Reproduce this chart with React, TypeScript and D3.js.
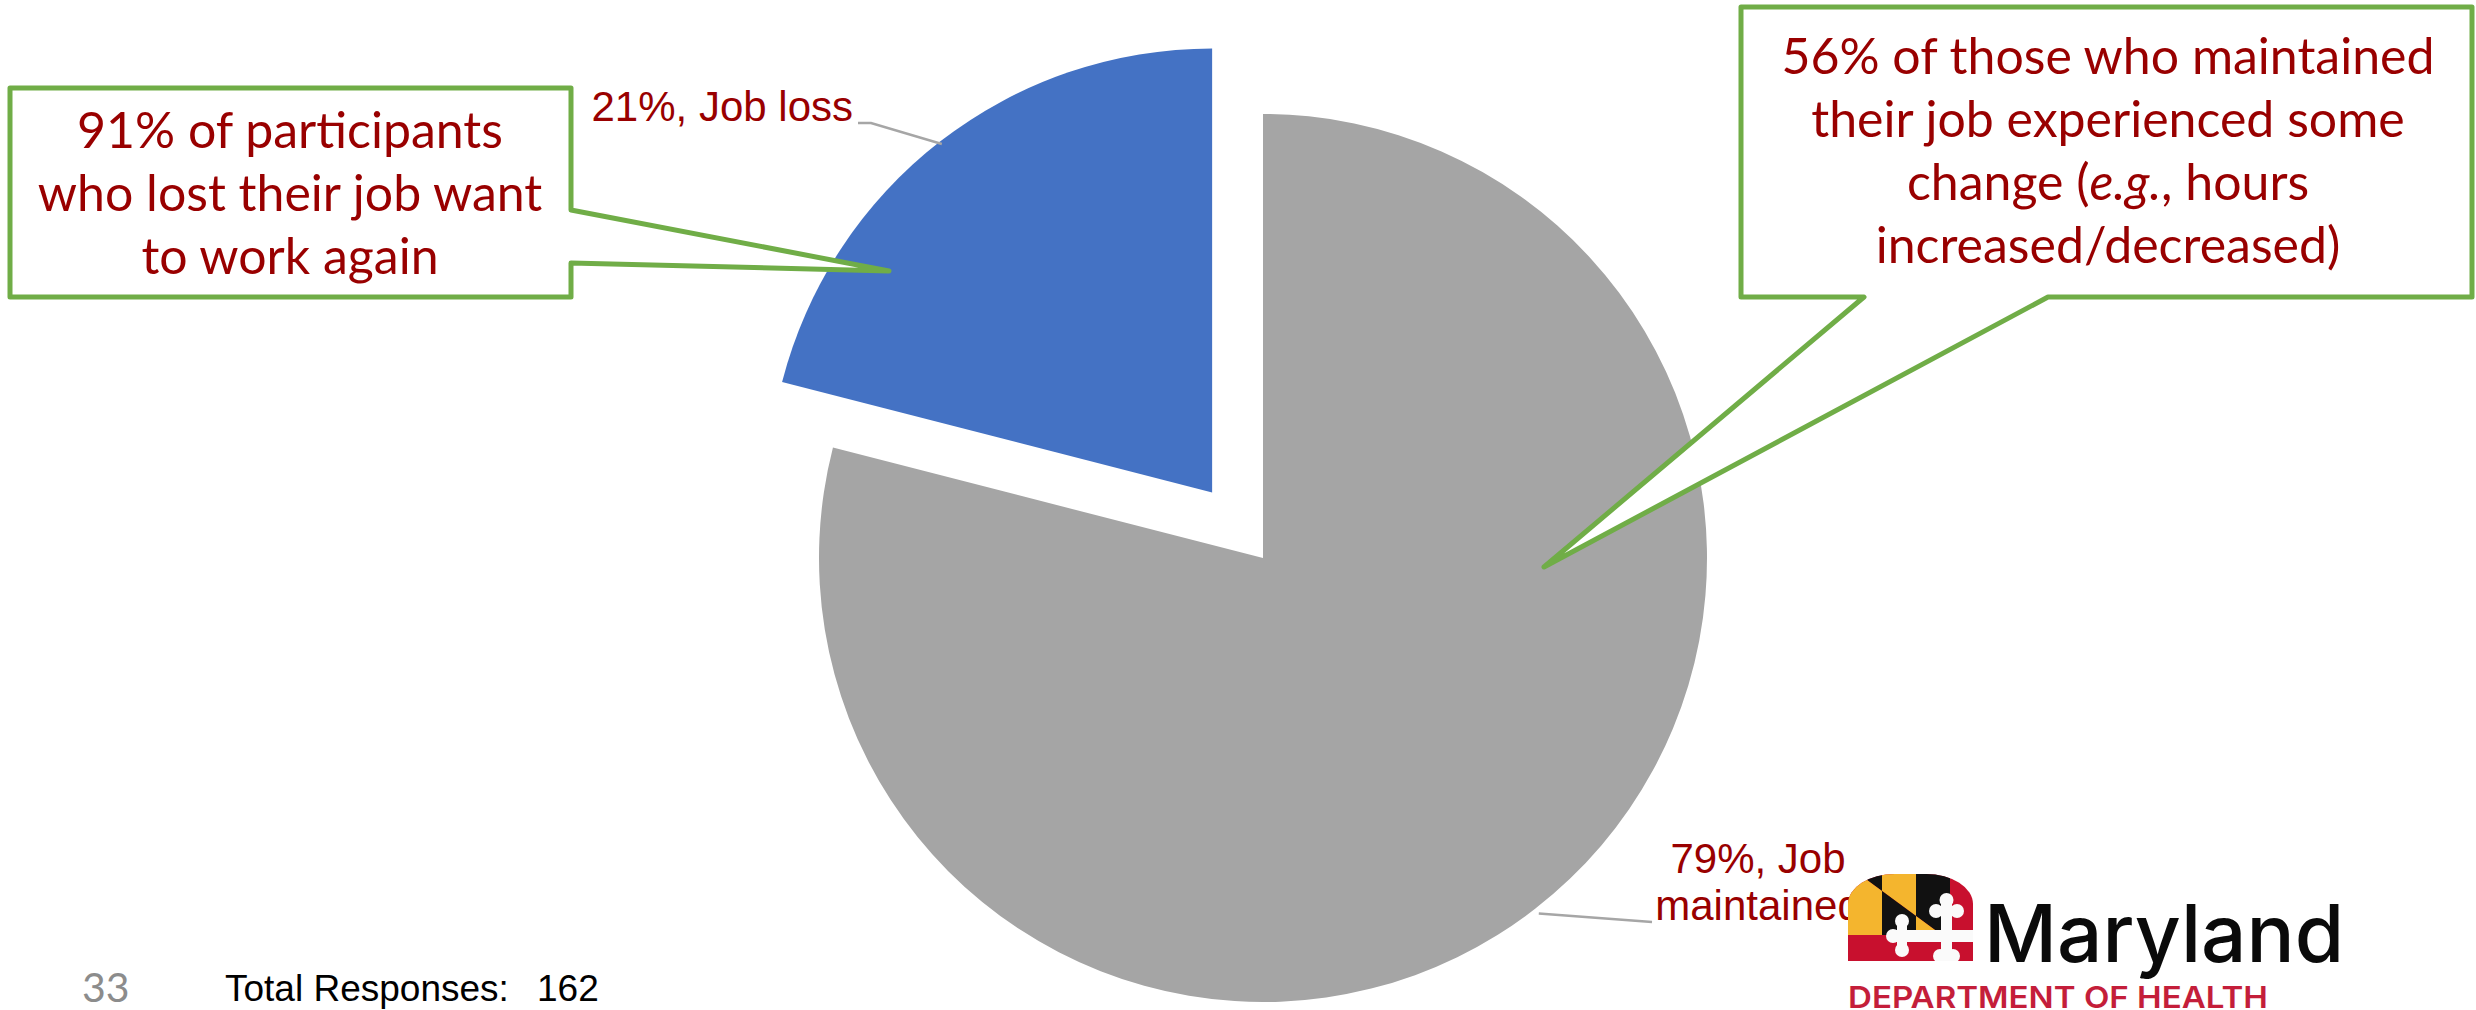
import React, { useRef, useEffect } from 'react';
import * as d3 from 'd3';

// Chart values
const categories = ['Job maintained', 'Job loss'];
const shares = [79, 21];
const sliceColors = ['#A5A5A5', '#4472C4'];
const labelLines = [['79%, Job', 'maintained'], ['21%, Job loss']];

// Callout texts (segments flagged true are italic)
const lossNote: [string, boolean][][] = [
  [['91% of participants', false]],
  [['who lost their job want', false]],
  [['to work again', false]],
];
const keptNote: [string, boolean][][] = [
  [['56% of those who maintained', false]],
  [['their job experienced some', false]],
  [['change (', false], ['e.g.', true], [', hours', false]],
  [['increased/decreased)', false]],
];

const totalLabel = 'Total Responses:';
const totalResponses = 162;
const slideNumber = 33;

const W = 2476;
const H = 1010;
const RED_TEXT = '#990000';
const GREEN = '#70AD47';

const PieSlide: React.FC = () => {
  const svgRef = useRef<SVGSVGElement>(null);

  useEffect(() => {
    if (!svgRef.current) return;
    const svg = d3.select(svgRef.current);
    svg.selectAll('*').remove();

    const cx = 1263, cy = 558, R = 444;
    const explode = [0, 83];

    const pie = d3.pie<number>().sort(null).value(d => d);
    const arcs = pie(shares);
    const arc = d3.arc<d3.PieArcDatum<number>>().innerRadius(0).outerRadius(R);

    const centerOf = (i: number) => {
      const a = arcs[i];
      const mid = (a.startAngle + a.endAngle) / 2;
      return [cx + Math.sin(mid) * explode[i], cy - Math.cos(mid) * explode[i]];
    };
    const rimPoint = (i: number, r: number) => {
      const a = arcs[i];
      const mid = (a.startAngle + a.endAngle) / 2;
      const [x, y] = centerOf(i);
      return [x + Math.sin(mid) * r, y - Math.cos(mid) * r];
    };

    // Slices
    svg.append('g')
      .selectAll('path')
      .data(arcs)
      .enter()
      .append('path')
      .attr('transform', (_d, i) => `translate(${centerOf(i).join(',')})`)
      .attr('d', arc)
      .attr('fill', (_d, i) => sliceColors[i])
      .append('title')
      .text((d, i) => `${categories[i]}: ${d.data}%`);

    // Data labels + leader lines
    const labels = svg.append('g')
      .style('font-family', '"Liberation Sans", Arial, sans-serif')
      .style('font-size', '42px')
      .style('fill', RED_TEXT);

    // Job loss label
    const s1 = rimPoint(1, R - 3);
    svg.append('polyline')
      .attr('points', [s1, [871, 123], [858, 123]].map(p => p.join(',')).join(' '))
      .attr('fill', 'none')
      .attr('stroke', '#A6A6A6')
      .attr('stroke-width', 2.5);
    labels.append('text')
      .attr('x', 853)
      .attr('y', 121)
      .attr('text-anchor', 'end')
      .text(labelLines[1][0]);

    // Job maintained label
    const s0 = rimPoint(0, R + 6);
    svg.append('polyline')
      .attr('points', [s0, [1652, 922]].map(p => p.join(',')).join(' '))
      .attr('fill', 'none')
      .attr('stroke', '#A6A6A6')
      .attr('stroke-width', 2.5);

    // Logo (drawn under the maintained label, which overlaps it)
    const logo = svg.append('g').attr('transform', 'translate(1848,874)');
    const defs = svg.append('defs');
    defs.append('clipPath').attr('id', 'arch')
      .append('path')
      .attr('d', 'M0,87 L0,30 A47,30 0 0 1 47,0 L78,0 A47,30 0 0 1 125,30 L125,87 Z');
    const flag = logo.append('g').attr('clip-path', 'url(#arch)');
    const gold = '#F4B52E', black = '#111111', crimson = '#C8102E';
    flag.append('rect').attr('x', 0).attr('y', 0).attr('width', 125).attr('height', 87).attr('fill', crimson);
    // Calvert quarter: paly gold/black counterchanged on a diagonal
    const stripes = [0, 34, 68];
    const slope = 0.735, y0 = -8;
    stripes.forEach((sx, k) => {
      const ex = sx + 34;
      const ya = y0 + slope * sx, yb = y0 + slope * ex;
      const upper = k % 2 === 0 ? black : gold;
      const lower = k % 2 === 0 ? gold : black;
      flag.append('path')
        .attr('d', `M${sx},0 L${ex},0 L${ex},${yb} L${sx},${ya} Z`)
        .attr('fill', upper);
      flag.append('path')
        .attr('d', `M${sx},${ya} L${ex},${yb} L${ex},61 L${sx},61 Z`)
        .attr('fill', lower);
    });
    // Crossland bottony cross
    const white = '#FAFAFA';
    flag.append('rect').attr('x', 93).attr('y', 26).attr('width', 11).attr('height', 62).attr('fill', white);
    flag.append('rect').attr('x', 44).attr('y', 56).attr('width', 81).attr('height', 12).attr('fill', white);
    flag.append('rect').attr('x', 49).attr('y', 47).attr('width', 10).attr('height', 30).attr('fill', white);
    [[98.5, 26], [88, 37], [109, 37], [92, 82], [105, 82], [54, 47], [54, 76], [45, 62]]
      .forEach(([x, y]) => flag.append('circle').attr('cx', x).attr('cy', y).attr('r', 7).attr('fill', white));

    svg.append('text')
      .attr('x', 1984)
      .attr('y', 962)
      .style('font-family', 'Inter, "Noto Sans", sans-serif')
      .style('font-weight', 500)
      .style('font-size', '80px')
      .style('fill', '#0A0A0A')
      .text('Maryland');
    svg.append('text')
      .attr('x', 1848)
      .attr('y', 1008)
      .attr('textLength', 420)
      .attr('lengthAdjust', 'spacingAndGlyphs')
      .style('font-family', 'Inter, "Noto Sans", sans-serif')
      .style('font-weight', 600)
      .style('font-size', '30px')
      .style('fill', '#C41E3A')
      .text('DEPARTMENT OF HEALTH');

    const mLabel = labels.append('text')
      .attr('text-anchor', 'middle');
    labelLines[0].forEach((line, i) => {
      mLabel.append('tspan')
        .attr('x', 1758)
        .attr('y', 873 + i * 47)
        .text(line);
    });

    // Callouts
    const drawCallout = (outline: number[][], lines: [string, boolean][][], x: number, y: number) => {
      svg.append('path')
        .attr('d', d3.line()(outline as [number, number][]) + 'Z')
        .attr('fill', '#FFFFFF')
        .attr('stroke', GREEN)
        .attr('stroke-width', 5)
        .attr('stroke-linejoin', 'round');
      const t = svg.append('text')
        .attr('text-anchor', 'middle')
        .style('font-family', 'Lato, "Open Sans", sans-serif')
        .style('font-size', '50px')
        .style('fill', RED_TEXT);
      lines.forEach((segs, i) => {
        segs.forEach(([str, it], j) => {
          const ts = t.append('tspan').text(str).style('font-style', it ? 'italic' : 'normal');
          if (j === 0) ts.attr('x', x).attr('y', y + i * 63);
        });
      });
    };

    drawCallout(
      [[10, 88], [571, 88], [571, 210], [889, 271], [571, 263], [571, 297], [10, 297]],
      lossNote, 290, 148
    );
    drawCallout(
      [[1741, 7], [2472, 7], [2472, 297], [2048, 297], [1544, 567], [1864, 297], [1741, 297]],
      keptNote, 2108, 74
    );

    // Footer
    svg.append('text')
      .attr('x', 82)
      .attr('y', 1002)
      .style('font-family', 'Lato, "Open Sans", sans-serif')
      .style('font-size', '41px')
      .style('fill', '#8C8C8C')
      .text(slideNumber);
    svg.append('text')
      .attr('x', 225)
      .attr('y', 1001)
      .style('font-family', '"Liberation Sans", Arial, sans-serif')
      .style('font-size', '37px')
      .style('fill', '#000000')
      .text(totalLabel);
    svg.append('text')
      .attr('x', 537)
      .attr('y', 1001)
      .style('font-family', '"Liberation Sans", Arial, sans-serif')
      .style('font-size', '37px')
      .style('fill', '#000000')
      .text(totalResponses);
  }, []);

  return <svg ref={svgRef} width={W} height={H} style={{ display: 'block' }}></svg>;
};

export default function App() {
  return (
    <div style={{ position: 'absolute', left: 0, top: 0, width: W, height: H, background: '#fff', overflow: 'hidden' }}>
      <PieSlide />
    </div>
  );
}
